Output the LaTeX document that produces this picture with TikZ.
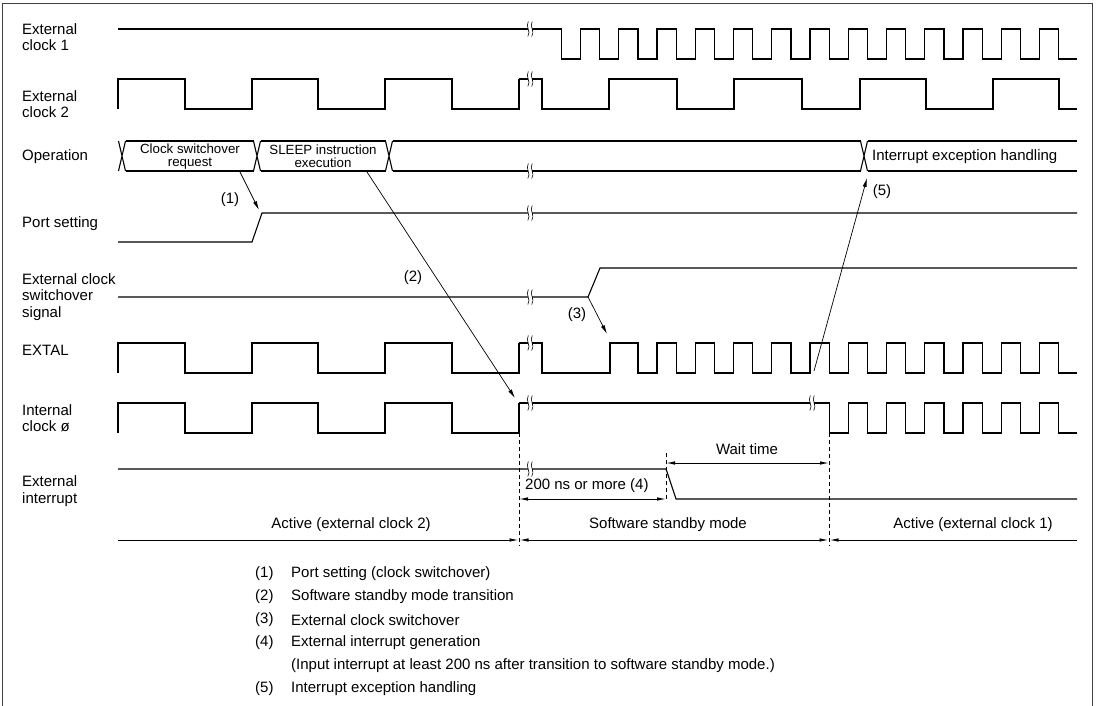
\documentclass[tikz,border=0pt]{standalone}
\usepackage{fontspec}
\setmainfont{Liberation Sans}
\usetikzlibrary{arrows.meta}

% wavy break mark on a signal line
\newcommand{\sigbreak}[2]{%
  \fill[white] (#1-2.2,#2-2) rectangle (#1+2.2,#2+2);
  \draw[line width=0.6pt] (#1-1.7,#2-7.5) .. controls (#1-5,#2-2) and (#1+1.5,#2+2) .. (#1-2.2,#2+7.5);
  \draw[line width=0.6pt] (#1+2.2,#2-7.5) .. controls (#1-1,#2-2) and (#1+5.5,#2+2) .. (#1+1.7,#2+7.5);
}

\begin{document}
\begin{tikzpicture}[x=1pt,y=-1pt,
  sig/.style={line width=1.1pt},
  ptr/.style={line width=0.7pt,-{Latex[length=9pt,width=4pt]}},
  dim/.style={line width=0.9pt,{Latex[length=9pt,width=3.5pt]}-{Latex[length=9pt,width=3.5pt]}},
  vdash/.style={line width=0.8pt,dash pattern=on 4pt off 3pt},
  lbl/.style={anchor=west,inner sep=0pt,font=\fontsize{15}{16.5}\selectfont,align=left},
  txt/.style={inner sep=0pt,font=\fontsize{15}{16.5}\selectfont},
  bus/.style={inner sep=0pt,font=\fontsize{13.3}{13.3}\selectfont,align=center}]
\useasboundingbox (0,0) rectangle (1097,706);

% frame
\draw[line width=0.8pt,black!75] (2.5,706) -- (2.5,3) -- (1092.5,3) -- (1092.5,706);

% signal names
\node[lbl] (nclka) at (22,37) {External\\clock 1};
\node[lbl] (nclkb) at (22,104) {External\\clock 2};
\node[lbl] (nop) at (22,157) {Operation};
\node[lbl] (nport) at (22,224) {Port setting};
\node[lbl] (nsw) at (22,297) {External clock\\switchover\\signal};
\node[lbl] (nextal) at (22,350) {EXTAL};
\node[lbl] (nint) at (22,418) {Internal\\clock ø};
\node[lbl] (nirq) at (22,491) {External\\interrupt};

% external clock 1
\draw[sig] (118,29) -- (561.5,29) -- (561.5,59)
  \foreach \k in {0,...,12} {-- ({580.5+38.25*\k},59) -- ({580.5+38.25*\k},29) -- ({599.75+38.25*\k},29) -- ({599.75+38.25*\k},59)}
  -- (1077,59);

% slow clock part: external clock 2, EXTAL, internal clock
\foreach \hi in {79,343,403}
  \draw[sig] (118,\hi+30) -- (118,\hi) -- (185,\hi) -- (185,\hi+30) -- (252,\hi+30) -- (252,\hi)
    -- (318,\hi) -- (318,\hi+30) -- (385,\hi+30) -- (385,\hi) -- (452,\hi) -- (452,\hi+30)
    -- (519,\hi+30) -- (519,\hi);

% external clock 2
\draw[sig] (519,79) -- (542,79) -- (542,109) -- (609,109) -- (609,79) -- (677,79) -- (677,109)
  -- (734,109) -- (734,79) -- (802,79) -- (802,109) -- (860,109) -- (860,79) -- (926,79)
  -- (926,109) -- (993,109) -- (993,79) -- (1059,79) -- (1059,109) -- (1077,109);

% operation
\foreach \c in {122,257,389,864}
  \draw[sig] (\c-3.5,141) -- (\c+3.5,171) (\c-3.5,171) -- (\c+3.5,141);
\draw[sig] (125.5,141) -- (253.5,141) (125.5,171) -- (253.5,171);
\draw[sig] (260.5,141) -- (385.5,141) (260.5,171) -- (385.5,171);
\draw[sig] (392.5,141) -- (860.5,141) (392.5,171) -- (860.5,171);
\draw[sig] (867.5,141) -- (1077,141) (867.5,171) -- (1077,171);
\node[bus] (req) at (190,156.5) {Clock switchover\\request};
\node[bus] (sleep) at (323,156.5) {SLEEP instruction\\execution};
\node[txt,anchor=west] (iexh) at (872,157) {Interrupt exception handling};

% port setting
\draw[sig] (118,242) -- (252,242) -- (262,213) -- (1077,213);

% external clock switchover signal
\draw[sig] (118,297) -- (588,297) coordinate (swup) -- (600,268) -- (1077,268);

% EXTAL
\draw[sig] (519,343) -- (542,343) -- (542,373) -- (610,373) -- (610,343) -- (638,343) -- (638,373)
  \foreach \k in {0,...,10} {-- ({657+38.25*\k},373) -- ({657+38.25*\k},343) -- ({676.25+38.25*\k},343) -- ({676.25+38.25*\k},373)}
  -- (1077,373);

% internal clock
\draw[sig] (519,403) -- (829.25,403) -- (829.25,433)
  \foreach \k in {0,...,5} {-- ({848.25+38.25*\k},433) -- ({848.25+38.25*\k},403) -- ({867.5+38.25*\k},403) -- ({867.5+38.25*\k},433)}
  -- (1077,433);

% external interrupt
\draw[sig] (118,469) -- (666,469) -- (676,499) -- (1077,499);

% breaks
\sigbreak{530}{29}
\sigbreak{530}{79}
\sigbreak{530}{171}
\sigbreak{530}{213}
\sigbreak{530}{297}
\sigbreak{530}{343}
\sigbreak{530}{403}
\sigbreak{812}{403}
\sigbreak{530}{469}

% timing marks
\coordinate (ta) at (519,433);
\coordinate (tb) at (829,433);
\coordinate (tc) at (666,453);
\draw[vdash] (ta) -- (519,546);
\draw[vdash] (tb) -- (829,546);
\draw[vdash] (tc) -- (666,499);
\draw[dim] (519,499) -- (666,499);
\draw[dim] (666,463) -- (829,463);
\node[txt] (wait) at (747,449) {Wait time};
\node[txt,anchor=west] (tmin) at (525,486) {200 ns or more (4)};

% modes
\draw[line width=0.9pt,-{Latex[length=9pt,width=3.5pt]}] (118,540) -- (518.5,540);
\draw[dim] (519.5,540) -- (828.5,540);
\draw[line width=0.9pt,{Latex[length=9pt,width=3.5pt]}-] (829.5,540) -- (1077,540);
\node[txt] (act2) at (351,525) {Active (external clock 2)};
\node[txt] (stby) at (668,525) {Software standby mode};
\node[txt] (act1) at (973,525) {Active (external clock 1)};

% cause arrows
\coordinate (s1) at (240,172);
\coordinate (e1) at (259,210);
\coordinate (s2) at (367,172);
\coordinate (e2) at (515,398);
\coordinate (e3) at (607,334);
\coordinate (s5) at (814,371);
\coordinate (e5) at (867,178);
\draw[ptr] (s1) -- (e1);
\draw[ptr] (s2) -- (e2);
\draw[ptr] (swup) -- (e3);
\draw[ptr] (s5) -- (e5);
\node[txt] (m1) at (230,200) {(1)};
\node[txt] (m2) at (413,278) {(2)};
\node[txt] (m3) at (577,315) {(3)};
\node[txt] (m5) at (882,192) {(5)};

% legend
\node[lbl] (l1) at (255,574) {(1)};
\node[lbl] (t1) at (291,574) {Port setting (clock switchover)};
\node[lbl] (l2) at (255,597) {(2)};
\node[lbl] (t2) at (291,597) {Software standby mode transition};
\node[lbl] (l3) at (255,620) {(3)};
\node[lbl] (t3) at (291,620) {External clock switchover};
\node[lbl] (l4) at (255,643) {(4)};
\node[lbl] (t4) at (291,643) {External interrupt generation};
\node[lbl] (t4b) at (291,666) {(Input interrupt at least 200 ns after transition to software standby mode.)};
\node[lbl] (l5) at (255,689) {(5)};
\node[lbl] (t5) at (291,689) {Interrupt exception handling};
\end{tikzpicture}
\end{document}
